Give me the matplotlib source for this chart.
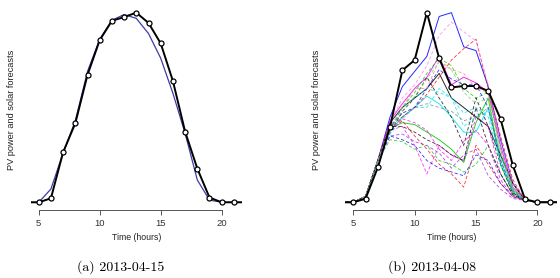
import numpy as np
import matplotlib.pyplot as plt

# hours (4 and 22 fall just outside the plotted range, like in R)
hours = list(range(4, 23))

# (a) 2013-04-15
obs_a = [0, 0, 0.021, 0.264, 0.417, 0.672, 0.855, 0.957, 0.977, 1.0, 0.946,
         0.838, 0.64, 0.373, 0.178, 0.025, 0, 0, 0]
fc_a = [0, 0, 0.07, 0.26, 0.43, 0.69, 0.86, 0.96, 0.99, 0.97, 0.89,
        0.76, 0.575, 0.364, 0.118, 0.012, 0, 0, 0]

# (b) 2013-04-08
obs_b = [0, 0, 0.019, 0.184, 0.399, 0.696, 0.75, 1.0, 0.759, 0.606, 0.613,
         0.613, 0.587, 0.44, 0.195, 0.016, 0, 0, 0]

# forecast members, values for hours 8..18 (rest is the common ramp)
members_b = [
    [0.45, 0.61, 0.69, 0.77, 0.98, 1.0, 0.82, 0.80, 0.61, 0.33, 0.10],
    [0.43, 0.52, 0.60, 0.66, 0.77, 0.62, 0.66, 0.63, 0.58, 0.30, 0.08],
    [0.38, 0.45, 0.50, 0.56, 0.52, 0.45, 0.37, 0.37, 0.50, 0.25, 0.07],
    [0.39, 0.42, 0.41, 0.37, 0.33, 0.28, 0.21, 0.42, 0.55, 0.20, 0.05],
    [0.42, 0.50, 0.55, 0.60, 0.68, 0.55, 0.50, 0.45, 0.40, 0.25, 0.10],
    [0.40, 0.45, 0.50, 0.57, 0.66, 0.75, 0.81, 0.86, 0.60, 0.35, 0.12],
    [0.42, 0.55, 0.62, 0.72, 0.88, 0.95, 0.90, 0.85, 0.62, 0.32, 0.10],
    [0.38, 0.50, 0.58, 0.68, 0.76, 0.72, 0.60, 0.55, 0.58, 0.28, 0.07],
    [0.40, 0.47, 0.50, 0.60, 0.70, 0.65, 0.62, 0.62, 0.50, 0.22, 0.06],
    [0.37, 0.48, 0.55, 0.66, 0.55, 0.45, 0.30, 0.55, 0.40, 0.20, 0.05],
    [0.36, 0.44, 0.50, 0.50, 0.60, 0.55, 0.47, 0.50, 0.45, 0.20, 0.06],
    [0.38, 0.40, 0.30, 0.15, 0.30, 0.25, 0.22, 0.45, 0.40, 0.15, 0.04],
    [0.38, 0.43, 0.35, 0.28, 0.20, 0.15, 0.08, 0.30, 0.20, 0.10, 0.03],
    [0.35, 0.33, 0.30, 0.22, 0.18, 0.16, 0.14, 0.25, 0.22, 0.10, 0.03],
    [0.33, 0.32, 0.28, 0.30, 0.22, 0.20, 0.16, 0.20, 0.30, 0.15, 0.04],
    [0.40, 0.40, 0.37, 0.33, 0.30, 0.25, 0.22, 0.50, 0.30, 0.15, 0.04],
    [0.39, 0.44, 0.42, 0.38, 0.28, 0.22, 0.32, 0.38, 0.30, 0.12, 0.03],
    [0.35, 0.36, 0.32, 0.30, 0.26, 0.18, 0.25, 0.28, 0.14, 0.07, 0.02],
    [0.38, 0.50, 0.55, 0.60, 0.58, 0.55, 0.40, 0.45, 0.48, 0.22, 0.06],
    [0.40, 0.50, 0.60, 0.60, 0.75, 0.70, 0.68, 0.60, 0.58, 0.28, 0.08],
    [0.38, 0.48, 0.56, 0.65, 0.74, 0.70, 0.58, 0.52, 0.55, 0.26, 0.07],
    [0.37, 0.45, 0.50, 0.52, 0.50, 0.48, 0.43, 0.45, 0.50, 0.23, 0.06],
]
ramp_start = [0, 0, 0.03, 0.22]   # hours 4..7
ramp_end = [0.01, 0, 0, 0]         # hours 19..22

member_colors = ['#0000FF', '#FF00FF', '#00E5EE', '#00CD00', '#000000',
                 '#FF0000', '#EE82EE', '#00CD00', '#0000FF', '#000000',
                 '#00E5EE', '#FF00FF', '#FF0000', '#0000FF', '#00CD00',
                 '#000000', '#FF00FF', '#8A2BE2', '#00E5EE', '#FA8072',
                 '#7CCD7C', '#808080']
member_solid = [True, True, True, True, True] + [False] * 17

xticks = [5, 10, 15, 20]


def style_axes(ax):
    ax.set_xlim(4.36, 21.64)
    ax.set_ylim(-0.04, 1.04)
    for s in ['top', 'right', 'left']:
        ax.spines[s].set_visible(False)
    ax.spines['bottom'].set_bounds(5, 20)
    ax.spines['bottom'].set_linewidth(0.7)
    ax.spines['bottom'].set_color('#555555')
    ax.set_yticks([])
    ax.set_xticks(xticks)
    ax.tick_params(axis='x', length=3.5, width=0.7, pad=3, labelsize=6.8,
                   colors='#555555', labelcolor='#333333')
    for lab in ax.get_xticklabels():
        lab.set_family('Liberation Sans')
    ax.set_xlabel('Time (hours)', fontsize=6.3, family='Liberation Sans',
                  labelpad=4, color='#222222')


fig = plt.figure(figsize=(5.6, 2.78), dpi=100)
ax1 = fig.add_axes([0.0552, 0.245, 0.3764, 0.7367])
ax2 = fig.add_axes([0.6168, 0.245, 0.3787, 0.7367])

# left panel
ax1.plot(hours, fc_a, color='#3c3ca8', lw=0.9)
ax1.plot(hours, obs_a, color='black', lw=1.4, marker='o', ms=3.6,
         mfc='white', mec='black', mew=0.9)
style_axes(ax1)

# right panel
for vals, c, solid in zip(members_b, member_colors, member_solid):
    y = ramp_start + vals + ramp_end
    if solid:
        ax2.plot(hours, y, color=c, lw=0.7, alpha=0.85)
    else:
        ax2.plot(hours, y, color=c, lw=0.6, ls=(0, (4, 2.5)), alpha=0.8)
ax2.plot(hours, obs_b, color='black', lw=1.4, marker='o', ms=3.6,
         mfc='white', mec='black', mew=0.9)
style_axes(ax2)

fig.text(0.021, 0.605, 'PV power and solar forecasts', rotation=90,
         ha='center', va='center', fontsize=6.6, family='Liberation Sans',
         color='#222222')
fig.text(0.566, 0.605, 'PV power and solar forecasts', rotation=90,
         ha='center', va='center', fontsize=6.6, family='Liberation Sans',
         color='#222222')

fig.text(0.216, 0.04, '(a) 2013-04-15', ha='center', va='center',
         fontsize=10, family='cmr10')
fig.text(0.771, 0.04, '(b) 2013-04-08', ha='center', va='center',
         fontsize=10, family='cmr10')

fig.savefig('out.png', dpi=100)
